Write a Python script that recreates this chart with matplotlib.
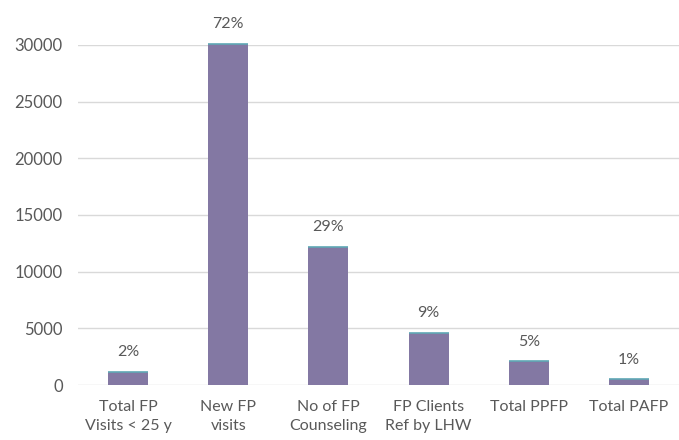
import matplotlib.pyplot as plt

# valores
categories = ['Total FP\nVisits < 25 y', 'New FP\nvisits', 'No of FP\nCounseling',
              'FP Clients\nRef by LHW', 'Total PPFP', 'Total PAFP']
values = [1150, 30100, 12200, 4600, 2100, 500]
pct_labels = ['2%', '72%', '29%', '9%', '5%', '1%']
yticks = [0, 5000, 10000, 15000, 20000, 25000, 30000]

plt.rcParams['font.family'] = ['Lato', 'DejaVu Sans']
text_col = '#595959'

fig = plt.figure(figsize=(6.79, 4.4), dpi=100)
ax = fig.add_axes([0.115, 0.125, 0.885, 0.773])

x = range(len(categories))
ax.bar(x, values, width=0.4, color='#8378A3', zorder=3, clip_on=False)
# borde superior verdoso de las barras
ax.hlines(values, [i - 0.2 for i in x], [i + 0.2 for i in x],
          colors='#5FA8B5', lw=1.2, zorder=4, clip_on=False)

for i, (v, lab) in enumerate(zip(values, pct_labels)):
    ax.annotate(lab, (i, v), xytext=(0, 9), textcoords='offset points',
                ha='center', va='bottom', fontsize=11.5, color=text_col,
                annotation_clip=False)

ax.set_xlim(-0.5, len(categories) - 0.5)
ax.set_ylim(0, 30000)
ax.set_yticks(yticks)
ax.set_yticklabels([str(t) for t in yticks], fontsize=12, color=text_col)
ax.set_xticks(list(x))
ax.set_xticklabels(categories, fontsize=11.5, color=text_col, linespacing=1.45)

ax.grid(axis='y', color='#D9D9D9', lw=1, zorder=0)
for s in ax.spines.values():
    s.set_visible(False)
ax.tick_params(axis='both', length=0)
ax.tick_params(axis='y', pad=11)
ax.tick_params(axis='x', pad=11)

plt.savefig('out.png', dpi=100)
